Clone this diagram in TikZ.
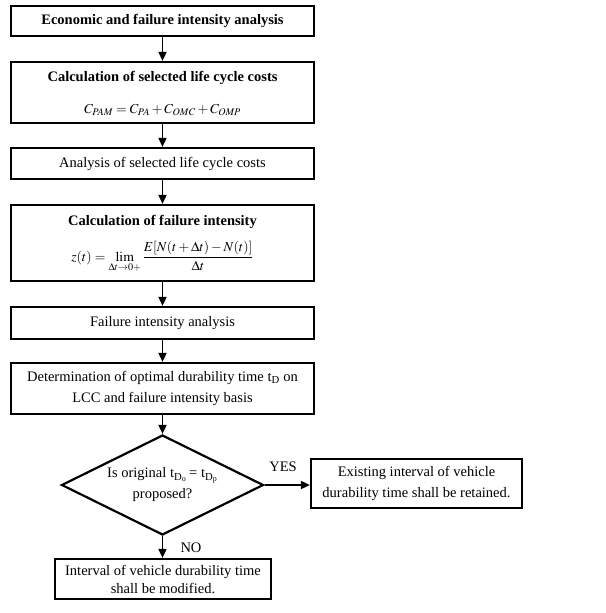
\documentclass[tikz,border=0pt]{standalone}
\usepackage{mathptmx}
\usepackage{fontspec}
\setmainfont{Liberation Serif}
\usetikzlibrary{shapes.geometric,arrows.meta}
\tikzset{
  box/.style={draw, line width=2.2pt, minimum width=303pt, inner sep=0pt, align=center, font=\fontsize{14.5}{17}\selectfont},
  arr/.style={line width=1.7pt, -{Triangle[length=9pt,width=8pt]}},
  lbl/.style={font=\fontsize{14.5}{17}\selectfont, inner sep=0pt},
  mth/.style={font=\fontsize{13.7}{16}\selectfont, inner sep=0pt}
}
\begin{document}
\begin{tikzpicture}[x=1pt,y=1pt]
\useasboundingbox (0,0) rectangle (605,-613);
\node[box, minimum height=30pt] (b1) at (162.5,-21) {\textbf{Economic and failure intensity analysis}};
\node[box, minimum height=61pt] (b2) at (162.5,-92.5) {};
\node[lbl] (b2t) at (162.5,-78) {\textbf{Calculation of selected life cycle costs}};
\node[mth] (b2f) at (162.5,-110) {$C_{\mathit{PAM}} = C_{\mathit{PA}} + C_{\mathit{OMC}} + C_{\mathit{OMP}}$};
\node[box, minimum height=31pt] (b3) at (162.5,-163.5) {Analysis of selected life cycle costs};
\node[box, minimum height=76pt] (b4) at (162.5,-243) {};
\node[lbl] (b4t) at (162.5,-222) {\textbf{Calculation of failure intensity}};
\node[mth] (b4f) at (162.5,-257) {$\displaystyle z(t)=\lim_{\Delta t\to 0+}\frac{E[N(t+\Delta t)-N(t)]}{\Delta t}$};
\node[box, minimum height=32pt] (b5) at (162.5,-323) {Failure intensity analysis};
\node[box, minimum height=51pt] (b6) at (162.5,-388.5) {Determination of optimal durability time t\textsubscript{D} on\\[4pt] LCC and failure intensity basis};
\node[draw, diamond, line width=2.2pt, minimum width=202pt, minimum height=100pt, aspect=2, inner sep=0pt, align=center, font=\fontsize{14.5}{17}\selectfont] (d) at (162.5,-485) {Is original t\textsubscript{D\textsubscript{o}}\,= t\textsubscript{D\textsubscript{p}}\\[4pt] proposed?};
\node[box, minimum width=211pt, minimum height=49pt] (r) at (416.5,-483.5) {Existing interval of vehicle\\[4pt] durability time shall be retained.};
\node[box, minimum width=216pt, minimum height=40pt] (n) at (163,-579) {Interval of vehicle durability time\\[1pt] shall be modified.};
\draw[arr] (b1) -- (b2);
\draw[arr] (b2) -- (b3);
\draw[arr] (b3) -- (b4);
\draw[arr] (b4) -- (b5);
\draw[arr] (b5) -- (b6);
\draw[arr] (b6) -- (d);
\draw[arr] (d.east) -- (d.east -| r.west);
\draw[arr] (d.south) -- (d.south |- n.north);
\node[lbl] (yes) at (283,-467) {YES};
\node[lbl] (no) at (191,-548) {NO};
\end{tikzpicture}
\end{document}
